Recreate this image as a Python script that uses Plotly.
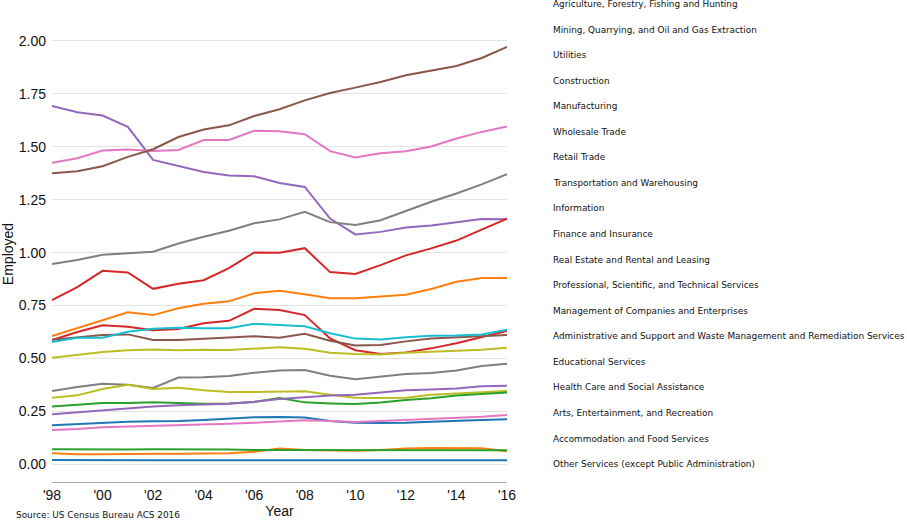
import plotly.graph_objects as go

years = list(range(1998, 2017))
tick_vals = [1998, 2000, 2002, 2004, 2006, 2008, 2010, 2012, 2014, 2016]
tick_text = ["'98", "'00", "'02", "'04", "'06", "'08", "'10", "'12", "'14", "'16"]

industries = [
    "Agriculture, Forestry, Fishing and Hunting",
    "Mining, Quarrying, and Oil and Gas Extraction",
    "Utilities",
    "Construction",
    "Manufacturing",
    "Wholesale Trade",
    "Retail Trade",
    "Transportation and Warehousing",
    "Information",
    "Finance and Insurance",
    "Real Estate and Rental and Leasing",
    "Professional, Scientific, and Technical Services",
    "Management of Companies and Enterprises",
    "Administrative and Support and Waste Management and Remediation Services",
    "Educational Services",
    "Health Care and Social Assistance",
    "Arts, Entertainment, and Recreation",
    "Accommodation and Food Services",
    "Other Services (except Public Administration)",
]

agriculture = [0.021, 0.020, 0.020, 0.020, 0.020, 0.020, 0.020, 0.020, 0.020, 0.020, 0.020, 0.020, 0.020, 0.020, 0.020, 0.020, 0.020, 0.020, 0.020]
mining = [0.053, 0.048, 0.048, 0.050, 0.050, 0.050, 0.052, 0.053, 0.060, 0.075, 0.068, 0.066, 0.064, 0.068, 0.075, 0.078, 0.078, 0.076, 0.062]
utilities = [0.072, 0.071, 0.071, 0.071, 0.072, 0.072, 0.070, 0.070, 0.068, 0.068, 0.067, 0.067, 0.067, 0.067, 0.067, 0.067, 0.067, 0.067, 0.067]
construction = [0.587, 0.625, 0.657, 0.650, 0.633, 0.639, 0.666, 0.678, 0.735, 0.729, 0.705, 0.595, 0.539, 0.521, 0.529, 0.548, 0.572, 0.600, 0.630]
manufacturing = [1.692, 1.663, 1.647, 1.594, 1.438, 1.410, 1.381, 1.364, 1.361, 1.329, 1.310, 1.161, 1.086, 1.098, 1.119, 1.128, 1.142, 1.159, 1.158]
wholesale = [0.589, 0.601, 0.611, 0.614, 0.587, 0.587, 0.592, 0.598, 0.605, 0.598, 0.617, 0.584, 0.562, 0.564, 0.581, 0.594, 0.600, 0.606, 0.611]
retail = [1.424, 1.446, 1.482, 1.487, 1.480, 1.485, 1.532, 1.532, 1.575, 1.573, 1.559, 1.479, 1.449, 1.469, 1.479, 1.501, 1.539, 1.570, 1.595]
transportation = [0.347, 0.366, 0.381, 0.376, 0.361, 0.410, 0.411, 0.417, 0.433, 0.443, 0.446, 0.419, 0.402, 0.414, 0.427, 0.432, 0.443, 0.465, 0.475]
information = [0.315, 0.326, 0.356, 0.376, 0.356, 0.362, 0.350, 0.342, 0.342, 0.342, 0.345, 0.329, 0.315, 0.314, 0.315, 0.329, 0.336, 0.342, 0.347]
finance = [0.578, 0.598, 0.598, 0.626, 0.641, 0.645, 0.643, 0.643, 0.664, 0.658, 0.652, 0.619, 0.594, 0.590, 0.601, 0.608, 0.609, 0.614, 0.636]
real_estate = [0.185, 0.191, 0.197, 0.202, 0.204, 0.205, 0.210, 0.215, 0.223, 0.224, 0.221, 0.205, 0.197, 0.196, 0.197, 0.202, 0.207, 0.210, 0.213]
professional = [0.606, 0.644, 0.683, 0.718, 0.705, 0.737, 0.759, 0.770, 0.808, 0.820, 0.803, 0.785, 0.784, 0.793, 0.801, 0.828, 0.862, 0.880, 0.880]
management = [0.273, 0.281, 0.290, 0.290, 0.293, 0.290, 0.287, 0.288, 0.295, 0.314, 0.293, 0.288, 0.285, 0.292, 0.304, 0.312, 0.325, 0.333, 0.340]
administrative = [0.776, 0.837, 0.914, 0.906, 0.829, 0.853, 0.870, 0.927, 1.001, 0.999, 1.021, 0.908, 0.899, 0.941, 0.987, 1.020, 1.057, 1.109, 1.160]
educational = [0.237, 0.246, 0.257, 0.265, 0.273, 0.279, 0.284, 0.287, 0.296, 0.309, 0.317, 0.325, 0.329, 0.340, 0.350, 0.354, 0.359, 0.369, 0.372]
health = [1.375, 1.384, 1.408, 1.452, 1.488, 1.546, 1.581, 1.601, 1.645, 1.677, 1.719, 1.754, 1.779, 1.806, 1.837, 1.858, 1.881, 1.919, 1.971]
arts = [0.163, 0.167, 0.175, 0.178, 0.180, 0.183, 0.188, 0.192, 0.197, 0.202, 0.208, 0.205, 0.200, 0.205, 0.210, 0.214, 0.219, 0.225, 0.233]
accommodation = [0.946, 0.965, 0.990, 0.998, 1.004, 1.043, 1.075, 1.103, 1.139, 1.157, 1.193, 1.144, 1.131, 1.153, 1.197, 1.240, 1.279, 1.322, 1.370]
other_services = [0.504, 0.517, 0.531, 0.539, 0.543, 0.539, 0.542, 0.540, 0.548, 0.553, 0.546, 0.527, 0.521, 0.519, 0.527, 0.532, 0.537, 0.542, 0.551]

series = [agriculture, mining, utilities, construction, manufacturing, wholesale, retail,
          transportation, information, finance, real_estate, professional, management,
          administrative, educational, health, arts, accommodation, other_services]

palette = ["#1f77b4", "#ff7f0e", "#2ca02c", "#d62728", "#9467bd",
           "#8c564b", "#e377c2", "#7f7f7f", "#bcbd22", "#17becf"]

fig = go.Figure()
for i, (name, vals) in enumerate(zip(industries, series)):
    fig.add_trace(go.Scatter(
        x=years, y=vals, mode="lines", name=name,
        line=dict(color=palette[i % 10], width=2),
        showlegend=False,
    ))

W, H = 907, 521
left, right_px, top_px, bottom_px = 52, 507, 26, 482
ymin, ymax = -0.083, 2.07

# Legend-like labels (text only, no symbols), stacked on the right
plot_h = bottom_px - top_px
plot_w = right_px - left
for k, name in enumerate(industries):
    ypix = 4 + k * 25.56
    fig.add_annotation(
        text=name, xref="paper", yref="paper",
        x=(551 - left) / plot_w, y=(bottom_px - ypix) / plot_h,
        xanchor="left", yanchor="middle", showarrow=False,
        font=dict(family="DejaVu Sans", size=8.9, color="#111"),
    )

fig.add_annotation(
    text="Source: US Census Bureau ACS 2016", xref="paper", yref="paper",
    x=(14 - left) / plot_w, y=(bottom_px - 515) / plot_h,
    xanchor="left", yanchor="middle", showarrow=False,
    font=dict(family="DejaVu Sans", size=8.9, color="#111"),
)

fig.update_layout(
    width=W, height=H,
    margin=dict(l=left, r=W - right_px, t=top_px, b=H - bottom_px, autoexpand=False),
    plot_bgcolor="white", paper_bgcolor="white",
    font=dict(family="Liberation Sans, Arial", size=14, color="#111"),
    xaxis=dict(
        range=[1998, 2016], tickvals=tick_vals, ticktext=tick_text, automargin=False,
        showgrid=False, zeroline=False, showline=True, linecolor="#aaaaaa", linewidth=1,
        ticks="", title=dict(text="Year", standoff=4, font=dict(size=14)),
        tickfont=dict(size=14),
    ),
    yaxis=dict(
        range=[ymin, ymax], tickvals=[0, 0.25, 0.5, 0.75, 1.0, 1.25, 1.5, 1.75, 2.0],
        ticktext=["0.00", "0.25", "0.50", "0.75", "1.00", "1.25", "1.50", "1.75", "2.00"],
        automargin=False, ticklabelstandoff=5,
        showgrid=True, gridcolor="#e3e3e3", gridwidth=1, zeroline=False, showline=False,
        ticks="", title=dict(text="Employed", standoff=2, font=dict(size=14)),
        tickfont=dict(size=14),
    ),
)

fig.write_html(
    "out.html",
    config={"displayModeBar": False},
    post_script="document.body.style.margin='0';document.body.style.overflow='hidden';",
)
